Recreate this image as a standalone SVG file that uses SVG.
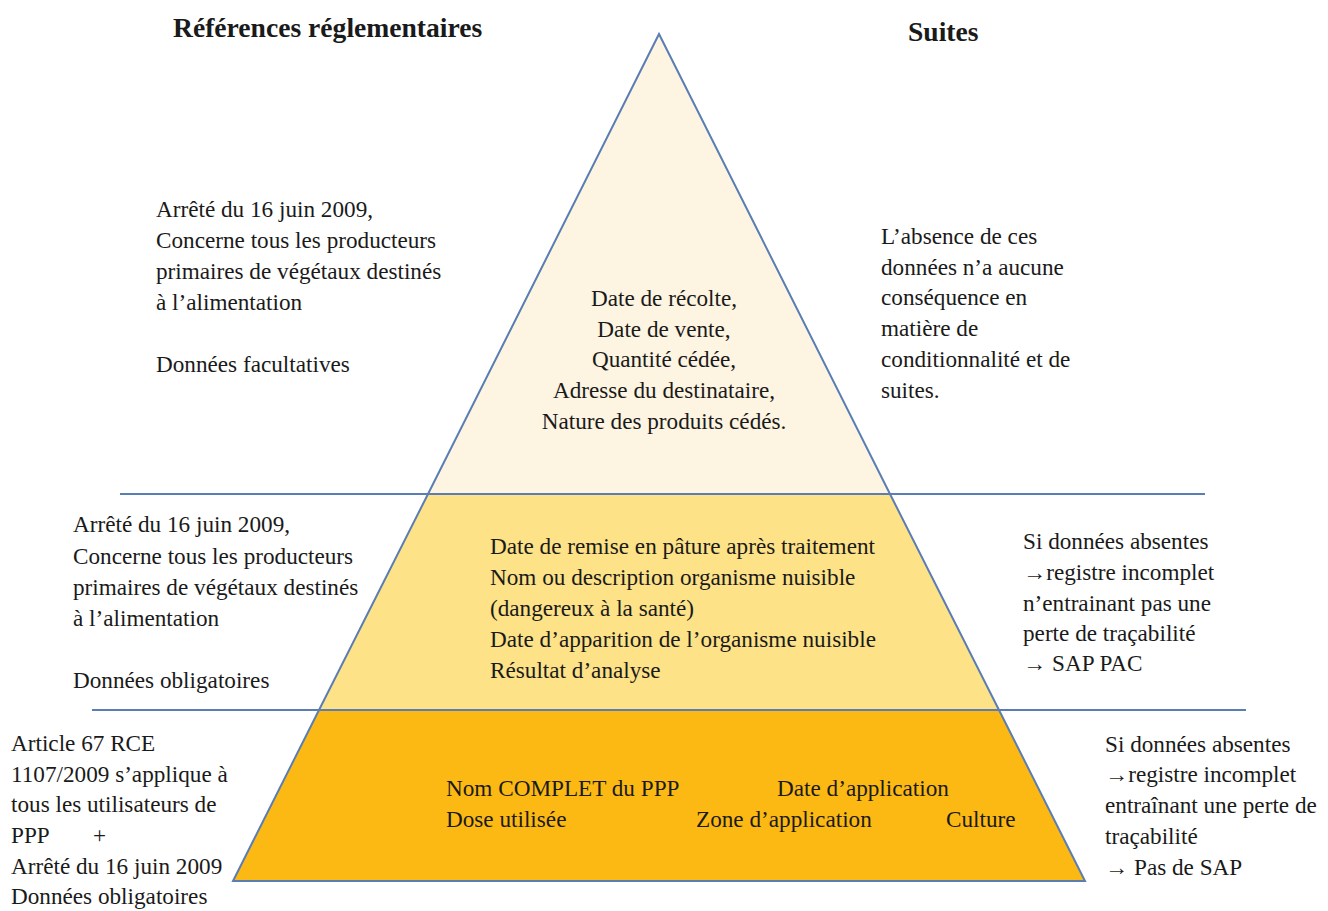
<svg xmlns="http://www.w3.org/2000/svg" width="1328" height="911" viewBox="0 0 1328 911">
<style>
text{font-family:"Liberation Serif","DejaVu Serif",serif;font-size:23.2px;fill:#1a1a1a}
.title{font-weight:bold;font-size:27.6px}
.c{text-anchor:middle}
.lvl{stroke:#5a7db4;stroke-width:2}
.sep{stroke:#5a7db4;stroke-width:2;fill:none}
</style>
<rect width="1328" height="911" fill="#ffffff"/>
<g id="pyramid">
<polygon id="level-top" class="lvl" points="659,34 428,494 890,494" fill="#fdf4e2"/>
<polygon id="level-middle" class="lvl" points="428,494 890,494 999,710 319,710" fill="#fde287"/>
<polygon id="level-bottom" class="lvl" points="319,710 999,710 1085,881 233,881" fill="#fdb913"/>
</g>
<g id="connectors">
<line class="sep" x1="120" y1="494" x2="1205" y2="494"/>
<line class="sep" x1="92" y1="710" x2="1246" y2="710"/>
</g>
<g id="titles">
<text class="title" x="173" y="37">Références réglementaires</text>
<text class="title" x="908" y="41">Suites</text>
</g>
<g id="top-center">
<text class="c" x="664" y="306">Date de récolte,</text>
<text class="c" x="664" y="337">Date de vente,</text>
<text class="c" x="664" y="367">Quantité cédée,</text>
<text class="c" x="664" y="398">Adresse du destinataire,</text>
<text class="c" x="664" y="429">Nature des produits cédés.</text>
</g>
<g id="top-left">
<text x="156" y="217">Arrêté du 16 juin 2009,</text>
<text x="156" y="248">Concerne tous les producteurs</text>
<text x="156" y="279">primaires de végétaux destinés</text>
<text x="156" y="310">à l’alimentation</text>
<text x="156" y="372">Données facultatives</text>
</g>
<g id="top-right">
<text x="881" y="244">L’absence de ces</text>
<text x="881" y="275">données n’a aucune</text>
<text x="881" y="305">conséquence en</text>
<text x="881" y="336">matière de</text>
<text x="881" y="367">conditionnalité et de</text>
<text x="881" y="398">suites.</text>
</g>
<g id="middle-center">
<text x="490" y="554">Date de remise en pâture après traitement</text>
<text x="490" y="585">Nom ou description organisme nuisible</text>
<text x="490" y="616">(dangereux à la santé)</text>
<text x="490" y="647">Date d’apparition de l’organisme nuisible</text>
<text x="490" y="678">Résultat d’analyse</text>
</g>
<g id="middle-left">
<text x="73" y="532">Arrêté du 16 juin 2009,</text>
<text x="73" y="564">Concerne tous les producteurs</text>
<text x="73" y="595">primaires de végétaux destinés</text>
<text x="73" y="626">à l’alimentation</text>
<text x="73" y="688">Données obligatoires</text>
</g>
<g id="middle-right">
<text x="1023" y="549">Si données absentes</text>
<text x="1023" y="580">→registre incomplet</text>
<text x="1023" y="611">n’entrainant pas une</text>
<text x="1023" y="641">perte de traçabilité</text>
<text x="1023" y="671">→ SAP PAC</text>
</g>
<g id="bottom-center">
<text x="446" y="796">Nom COMPLET du PPP</text>
<text x="777" y="796">Date d’application</text>
<text x="446" y="827">Dose utilisée</text>
<text x="696" y="827">Zone d’application</text>
<text x="946" y="827">Culture</text>
</g>
<g id="bottom-left">
<text x="11" y="751">Article 67 RCE</text>
<text x="11" y="782">1107/2009 s’applique à</text>
<text x="11" y="812">tous les utilisateurs de</text>
<text x="11" y="843">PPP</text>
<text x="93" y="843">+</text>
<text x="11" y="874">Arrêté du 16 juin 2009</text>
<text x="11" y="904">Données obligatoires</text>
</g>
<g id="bottom-right">
<text x="1105" y="752">Si données absentes</text>
<text x="1105" y="782">→registre incomplet</text>
<text x="1105" y="813">entraînant une perte de</text>
<text x="1105" y="844">traçabilité</text>
<text x="1105" y="875">→ Pas de SAP</text>
</g>
</svg>
